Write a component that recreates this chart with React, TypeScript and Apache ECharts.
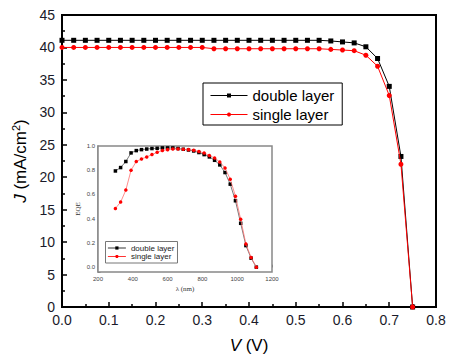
import React, { useEffect, useRef } from 'react';
import * as echarts from 'echarts';

const voltage = [0, 0.025, 0.05, 0.075, 0.1, 0.125, 0.15, 0.175, 0.2, 0.225, 0.25, 0.275, 0.3, 0.325, 0.35, 0.375, 0.4, 0.425, 0.45, 0.475, 0.5, 0.525, 0.55, 0.575, 0.6, 0.625, 0.65, 0.675, 0.7, 0.725, 0.75];
const doubleJ = [41.1, 41.1, 41.1, 41.1, 41.1, 41.1, 41.1, 41.1, 41.1, 41.1, 41.1, 41.1, 41.1, 41.1, 41.1, 41.1, 41.1, 41.1, 41.1, 41.1, 41.1, 41.1, 41.1, 41.0, 40.85, 40.7, 40.1, 38.3, 34.0, 23.2, 0];
const singleJ = [40.0, 40.0, 40.0, 40.0, 40.0, 40.0, 40.0, 40.0, 40.0, 40.0, 40.0, 40.0, 40.0, 39.8, 39.8, 39.8, 39.8, 39.8, 39.8, 39.8, 39.8, 39.8, 39.8, 39.7, 39.6, 39.5, 38.8, 37.1, 32.6, 22.0, 0];

const wavelength = [300, 330, 360, 390, 420, 450, 480, 510, 540, 570, 600, 630, 660, 690, 720, 750, 780, 810, 840, 870, 900, 930, 960, 990, 1020, 1050, 1080, 1110];
const eqeDouble = [0.794, 0.822, 0.872, 0.943, 0.962, 0.970, 0.975, 0.979, 0.981, 0.984, 0.984, 0.984, 0.979, 0.973, 0.967, 0.959, 0.946, 0.929, 0.910, 0.882, 0.844, 0.781, 0.685, 0.548, 0.362, 0.178, 0.074, 0.0];
const eqeSingle = [0.485, 0.537, 0.636, 0.80, 0.872, 0.893, 0.91, 0.929, 0.948, 0.962, 0.970, 0.975, 0.975, 0.973, 0.970, 0.965, 0.954, 0.943, 0.921, 0.901, 0.868, 0.819, 0.726, 0.586, 0.395, 0.192, 0.079, 0.0];

const seriesNames = ['double layer', 'single layer'];

const SANS = '"Liberation Sans", Arial, sans-serif';
const SERIF = '"Liberation Serif", "Times New Roman", serif';

export default function App() {
  const ref = useRef<HTMLDivElement>(null);
  useEffect(() => {
    if (!ref.current) return;
    const chart = echarts.init(ref.current, undefined, { renderer: 'svg' });
    const zip = (xs: number[], ys: number[]) => xs.map((x, i) => [x, ys[i]]);
    chart.setOption({
      animation: false,
      backgroundColor: '#fff',
      textStyle: { fontFamily: SANS },
      grid: [
        { left: 62, top: 15, right: 25, bottom: 51, show: true, borderColor: '#000', borderWidth: 2, backgroundColor: 'transparent' },
        { left: 98, top: 146, right: 189, bottom: 87, show: true, borderColor: '#888', borderWidth: 1.5, backgroundColor: '#fff', z: 5 },
      ],
      legend: [
        {
          left: 203, top: 83, orient: 'vertical', data: seriesNames, selectedMode: false,
          itemWidth: 37, itemHeight: 5, itemGap: 4, padding: [5, 8, 3, 7],
          borderColor: '#000', borderWidth: 1, backgroundColor: '#fff',
          lineStyle: { width: 1 },
          textStyle: { fontSize: 15, fontFamily: SANS, color: '#000' },
        },
        {
          left: 105.5, top: 241.5, orient: 'vertical', data: seriesNames, selectedMode: false,
          itemWidth: 18, itemHeight: 4, itemGap: 0.5, padding: [2.5, 3, 2.5, 2],
          borderColor: '#777', borderWidth: 1, backgroundColor: '#fff', z: 10,
          lineStyle: { width: 0.8 },
          textStyle: { fontSize: 8, fontFamily: SANS, color: '#222' },
        },
      ],
      xAxis: [
        {
          gridIndex: 0, type: 'value', min: 0, max: 0.8, interval: 0.1,
          axisLine: { lineStyle: { color: '#000', width: 2 } },
          axisTick: { inside: true, length: 5, lineStyle: { color: '#000', width: 1.5 } },
          minorTick: { show: true, splitNumber: 2, length: 3, lineStyle: { color: '#000', width: 1.5 } },
          splitLine: { show: false },
          axisLabel: { fontSize: 14, color: '#1a1a2a', margin: 6, formatter: (v: number) => v.toFixed(1) },
          name: '{i|V} (V)', nameLocation: 'middle', nameGap: 30,
          nameTextStyle: { fontSize: 17, color: '#000', fontFamily: SANS, rich: { i: { fontSize: 17, fontStyle: 'italic', fontFamily: SANS, color: '#000' } } },
        },
        {
          gridIndex: 1, type: 'value', min: 200, max: 1200, interval: 200,
          axisLine: { lineStyle: { color: '#888', width: 1.5 } },
          axisTick: { inside: true, length: 2.5, lineStyle: { color: '#666', width: 0.8 } },
          minorTick: { show: true, splitNumber: 2, length: 1.5, lineStyle: { color: '#666', width: 0.8 } },
          splitLine: { show: false },
          axisLabel: { fontSize: 6, color: '#444', margin: 4, formatter: (v: number) => String(v) },
          name: 'λ (nm)', nameLocation: 'middle', nameGap: 13,
          nameTextStyle: { fontSize: 7, color: '#333', fontFamily: SERIF },
        },
      ],
      yAxis: [
        {
          gridIndex: 0, type: 'value', min: 0, max: 45, interval: 5,
          axisLine: { show: true, lineStyle: { color: '#000', width: 2 } },
          axisTick: { show: true, inside: true, length: 5, lineStyle: { color: '#000', width: 1.5 } },
          minorTick: { show: true, splitNumber: 2, length: 3, lineStyle: { color: '#000', width: 1.5 } },
          splitLine: { show: false },
          axisLabel: { fontSize: 14, color: '#1a1a2a', margin: 7 },
          name: '{i|J} (mA/cm{s|2})', nameLocation: 'middle', nameGap: 30, nameRotate: 90,
          nameTextStyle: {
            fontSize: 17, color: '#000', fontFamily: SANS,
            rich: {
              i: { fontSize: 17, fontStyle: 'italic', fontFamily: SANS, color: '#000' },
              s: { fontSize: 11, fontFamily: SANS, color: '#000', padding: [0, 0, 9, 0] },
            },
          },
        },
        {
          gridIndex: 1, type: 'value', min: -0.04, max: 1.0,
          axisLine: { show: true, lineStyle: { color: '#888', width: 1.5 } },
          axisTick: { show: true, inside: true, length: 2.5, lineStyle: { color: '#666', width: 0.8 } },
          splitLine: { show: false },
          axisLabel: {
            fontSize: 6, color: '#444', margin: 3,
            formatter: (v: number) => (Math.abs(v * 5 - Math.round(v * 5)) < 1e-6 ? v.toFixed(1) : ''),
          },
          name: 'EQE', nameLocation: 'middle', nameGap: 17, nameRotate: 90,
          nameTextStyle: { fontSize: 7, color: '#333', fontFamily: SERIF },
        },
      ],
      series: [
        {
          name: seriesNames[0], type: 'line', xAxisIndex: 0, yAxisIndex: 0, data: zip(voltage, doubleJ),
          symbol: 'rect', symbolSize: 5, lineStyle: { color: '#000', width: 1 }, itemStyle: { color: '#000' }, z: 3,
        },
        {
          name: seriesNames[1], type: 'line', xAxisIndex: 0, yAxisIndex: 0, data: zip(voltage, singleJ),
          symbol: 'circle', symbolSize: 5, lineStyle: { color: '#ff0000', width: 1 }, itemStyle: { color: '#ff0000' }, z: 4,
        },
        {
          name: seriesNames[0], type: 'line', xAxisIndex: 1, yAxisIndex: 1, data: zip(wavelength, eqeDouble),
          symbol: 'rect', symbolSize: 3.5, lineStyle: { color: '#555', width: 0.8 }, itemStyle: { color: '#000' }, z: 6,
        },
        {
          name: seriesNames[1], type: 'line', xAxisIndex: 1, yAxisIndex: 1, data: zip(wavelength, eqeSingle),
          symbol: 'circle', symbolSize: 3.5, lineStyle: { color: '#ff7070', width: 0.8 }, itemStyle: { color: '#ff0000' }, z: 7,
        },
      ],
    });
    return () => chart.dispose();
  }, []);
  return <div ref={ref} style={{ width: 461, height: 359, position: 'absolute', left: 0, top: 0 }} />;
}
